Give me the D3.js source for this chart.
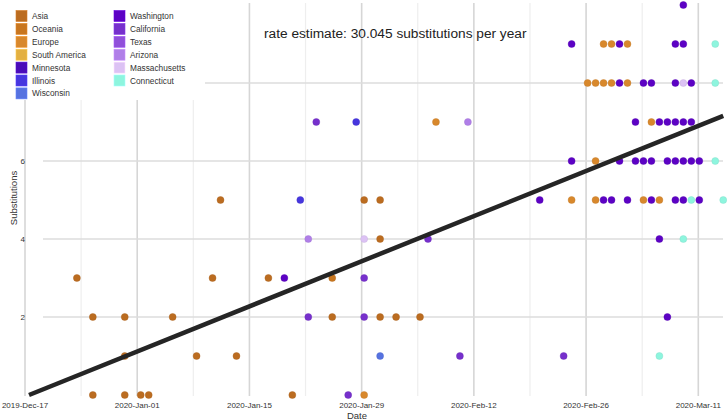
<!DOCTYPE html>
<html>
<head>
<meta charset="utf-8">
<script src="https://cdn.jsdelivr.net/npm/d3@7"></script>
<style>
  html, body { margin: 0; padding: 0; background: #fff; }
  svg { display: block; font-family: "Liberation Sans", Arial, Helvetica, sans-serif; }
</style>
</head>
<body>
<svg id="chart" width="727" height="420"></svg>
<script>
// ---------------- data ----------------
const regions = ["Asia", "Oceania", "Europe", "South America", "Minnesota", "Illinois", "Wisconsin",
                 "Washington", "California", "Texas", "Arizona", "Massachusetts", "Connecticut"];
const regionColors = ["#bb6c20", "#c8761f", "#d8882c", "#e3b042", "#4a0cb8", "#4636de", "#5672e0",
                      "#5c02c4", "#7630cc", "#904fda", "#b07fe8", "#dcc2f4", "#8ef5de"];

const sampleDates = [
  "2019-12-24","2019-12-26","2019-12-30","2020-01-05","2019-12-30","2020-01-08","2020-01-13","2020-01-10",
  "2020-01-11","2019-12-26","2019-12-30","2020-01-01","2020-01-02","2020-01-17","2020-01-19","2020-01-20",
  "2020-01-21","2020-01-22","2020-01-22","2020-01-23","2020-01-25","2020-01-25","2020-01-27","2020-01-28",
  "2020-01-29","2020-01-29","2020-01-29","2020-01-29","2020-01-29","2020-01-31","2020-01-31","2020-01-31",
  "2020-01-31","2020-02-02","2020-02-05","2020-02-06","2020-02-07","2020-02-10","2020-02-11","2020-02-20",
  "2020-02-23",
  // value 10, 9
  "2020-03-09",
  "2020-02-24","2020-02-28","2020-02-29","2020-03-01","2020-03-02","2020-03-08","2020-03-09","2020-03-13",
  // value 8
  "2020-02-26","2020-02-27","2020-02-28","2020-02-29","2020-03-01","2020-03-02","2020-03-04","2020-03-05",
  "2020-03-08","2020-03-09","2020-03-10","2020-03-13",
  // value 7
  "2020-03-03","2020-03-05","2020-03-06","2020-03-07","2020-03-08","2020-03-09","2020-03-10",
  // value 6
  "2020-02-24","2020-02-27","2020-03-01","2020-03-03","2020-03-04","2020-03-05","2020-03-07","2020-03-08",
  "2020-03-09","2020-03-10","2020-03-11","2020-03-13",
  // value 5
  "2020-02-24","2020-02-27","2020-02-28","2020-02-29","2020-03-02","2020-03-04","2020-03-05","2020-03-06",
  "2020-03-08","2020-03-09","2020-03-10","2020-03-11","2020-03-14",
  // value 4, 2, 1
  "2020-03-06","2020-03-09","2020-03-07","2020-03-06"
];
const substitutions = [
  3,2,2,2,1,1,1,3,
  5,0,0,0,0,3,3,0,
  5,4,2,7,3,2,0,7,
  5,4,3,2,0,5,4,2,
  1,2,2,4,7,1,7,5,
  1,
  10,
  9,9,9,9,9,9,9,9,
  8,8,8,8,8,8,8,8,8,8,8,8,
  7,7,7,7,7,7,7,
  6,6,6,6,6,6,6,6,6,6,6,6,
  5,5,5,5,5,5,5,5,5,5,5,5,5,
  4,4,2,1
];
const sampleRegions = [
  "Asia","Asia","Asia","Asia","Asia","Asia","Asia","Asia",
  "Asia","Asia","Asia","Asia","Asia","Asia","Washington","Asia",
  "Illinois","Arizona","California","California","Oceania","Asia","California","Illinois",
  "Asia","Massachusetts","California","California","Europe","Asia","Asia","Asia",
  "Wisconsin","Asia","Asia","California","Europe","California","Arizona","Washington",
  "California",
  "Washington",
  "Washington","Europe","Europe","Washington","Europe","Washington","Washington","Connecticut",
  "Europe","Europe","Europe","Europe","Washington","Europe","Washington","Washington",
  "Washington","Massachusetts","Washington","Connecticut",
  "Washington","Europe","Washington","Washington","Washington","Washington","Washington",
  "Washington","Europe","Washington","Washington","Washington","Washington","Washington","Washington",
  "Washington","Washington","Washington","Connecticut",
  "Europe","Europe","Washington","Washington","Washington","Europe","Washington","Europe",
  "Washington","Washington","Connecticut","Washington","Connecticut",
  "Washington","Connecticut","Washington","Connecticut"
];

const gridDates = ["2019-12-18","2019-12-25","2020-01-01","2020-01-08","2020-01-15","2020-01-22","2020-01-29",
                   "2020-02-05","2020-02-12","2020-02-19","2020-02-26","2020-03-04","2020-03-11"];
const tickLabels = ["2019-Dec-17","2020-Jan-01","2020-Jan-15","2020-Jan-29","2020-Feb-12","2020-Feb-26","2020-Mar-11"];
const yTicks = [2, 4, 6, 8];

const rate = 30.045;            // substitutions per year
const rootDate = "2019-12-18";
const lineEndDate = "2020-03-14";

// ---------------- chart ----------------
const parse = d3.utcParse("%Y-%m-%d");
const svg = d3.select("#chart");

const xGrid = d3.scaleUtc().domain([parse("2019-12-18"), parse("2020-03-11")]).range([25, 698.3]);
const x = d3.scaleUtc().domain([parse("2019-12-18"), parse("2020-03-11")]).range([29, 699.3]);
const y = d3.scaleLinear().domain([0, 10]).range([395, 5]);
const color = d3.scaleOrdinal().domain(regions).range(regionColors);

// vertical grid
const gd = gridDates.map(parse);
svg.append("g").selectAll("line").data(gd).join("line")
  .attr("x1", d => xGrid(d)).attr("x2", d => xGrid(d))
  .attr("y1", 3).attr("y2", 396)
  .attr("stroke", (d, i) => i % 2 === 0 ? "#d6d6d6" : "#eeeeee")
  .attr("stroke-width", (d, i) => i % 2 === 0 ? 1.6 : 1.2);

// horizontal grid
svg.append("g").selectAll("line").data(yTicks).join("line")
  .attr("x1", 43).attr("x2", 723)
  .attr("y1", d => y(d)).attr("y2", d => y(d))
  .attr("stroke", "#dcdcdc").attr("stroke-width", 1.6);

// y tick labels
svg.append("g").selectAll("text").data(yTicks).join("text")
  .attr("x", 25).attr("y", d => y(d) + 3)
  .attr("text-anchor", "end").attr("font-size", 8).attr("fill", "#333")
  .text(d => d);

// x tick labels
const labelDates = gd.filter((d, i) => i % 2 === 0);
svg.append("g").selectAll("text").data(labelDates).join("text")
  .attr("x", d => xGrid(d)).attr("y", 408)
  .attr("text-anchor", "middle").attr("font-size", 8).attr("fill", "#333")
  .text((d, i) => tickLabels[i]);

// axis titles
svg.append("text").attr("x", 357).attr("y", 419).attr("text-anchor", "middle")
  .attr("font-size", 9.5).attr("fill", "#333").text("Date");
svg.append("text").attr("transform", "translate(17,198) rotate(-90)").attr("text-anchor", "middle")
  .attr("font-size", 9.5).attr("fill", "#333").text("Substitutions");

// points
const pts = sampleDates.map((d, i) => ({ date: parse(d), v: substitutions[i], r: sampleRegions[i] }));
svg.append("g").selectAll("circle").data(pts).join("circle")
  .attr("cx", d => x(d.date)).attr("cy", d => y(d.v)).attr("r", 3.5)
  .attr("fill", d => color(d.r))
  .attr("stroke", d => d3.color(color(d.r)).darker(0.3))
  .attr("stroke-width", 0.4);

// regression line
const lineData = [rootDate, lineEndDate].map(s => {
  const dt = parse(s);
  return { date: dt, v: rate * (dt - parse(rootDate)) / (365.25 * 864e5) };
});
svg.append("path").datum(lineData)
  .attr("d", d3.line().x(d => x(d.date)).y(d => y(d.v)))
  .attr("fill", "none").attr("stroke", "#252525").attr("stroke-width", 4.5);

// rate text
svg.append("text").attr("x", 264).attr("y", 38).attr("font-size", 13.7).attr("fill", "#222")
  .text("rate estimate: " + rate.toFixed(3) + " substitutions per year");

// legend
const lg = svg.append("g");
lg.append("rect").attr("x", 0).attr("y", 0).attr("width", 205).attr("height", 100).attr("fill", "#fff");
const perCol = 7;
regions.forEach((r, i) => {
  const col = Math.floor(i / perCol), row = i % perCol;
  const gx = col === 0 ? 16 : 114, gy = 16 + row * 12.9;
  lg.append("rect").attr("x", gx).attr("y", gy - 5.5).attr("width", 11).attr("height", 11)
    .attr("fill", color(r)).attr("stroke", d3.color(color(r)).brighter(0.4)).attr("stroke-width", 0.6);
  lg.append("text").attr("x", gx + 16).attr("y", gy + 3).attr("font-size", 8.3).attr("fill", "#333").text(r);
});
</script>
</body>
</html>
